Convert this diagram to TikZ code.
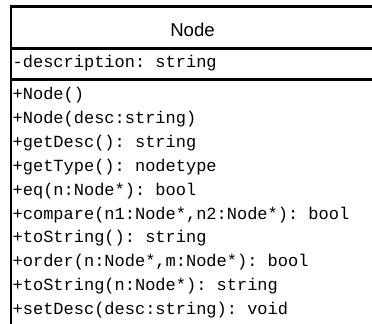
\documentclass[tikz,border=0pt]{standalone}
\usepackage{fontspec}
\setmainfont{Liberation Sans}
\setmonofont{Liberation Mono}
\begin{document}
\begin{tikzpicture}[x=1bp,y=-1bp,
    classname/.style={anchor=base,inner sep=0pt,font=\fontsize{18.6bp}{22bp}\selectfont},
    member/.style={anchor=base west,inner sep=0pt,font=\fontsize{17bp}{20bp}\ttfamily},
    boxline/.style={line width=2.6bp}]
    % picture frame, the class box runs off the right and bottom %
    \useasboundingbox (0,0) rectangle (372,324);
    \clip (0,0) rectangle (372,324);

    % class box and compartments %
    \draw [boxline] (11,6.5) rectangle (376,340);
    \draw [boxline] (11,48.5) -- (376,48.5);
    \draw [boxline] (11,79.5) -- (376,79.5);

    % class name %
    \node [classname] (name) at (192.5,36) {Node};

    % attributes %
    \node [member] (description) at (12.5,67) {-description: string};

    % methods %
    \node [member] (ctor) at (12.5,99.5) {+Node()};
    \node [member] (ctordesc) at (12.5,123.4) {+Node(desc:string)};
    \node [member] (getdesc) at (12.5,147.3) {+getDesc(): string};
    \node [member] (gettype) at (12.5,171.2) {+getType(): nodetype};
    \node [member] (eq) at (12.5,195.1) {+eq(n:Node*): bool};
    \node [member] (compare) at (12.5,219.0) {+compare(n1:Node*,n2:Node*): bool};
    \node [member] (tostring) at (12.5,242.9) {+toString(): string};
    \node [member] (order) at (12.5,266.8) {+order(n:Node*,m:Node*): bool};
    \node [member] (tostringn) at (12.5,290.7) {+toString(n:Node*): string};
    \node [member] (setdesc) at (12.5,314.6) {+setDesc(desc:string): void};
\end{tikzpicture}
\end{document}
